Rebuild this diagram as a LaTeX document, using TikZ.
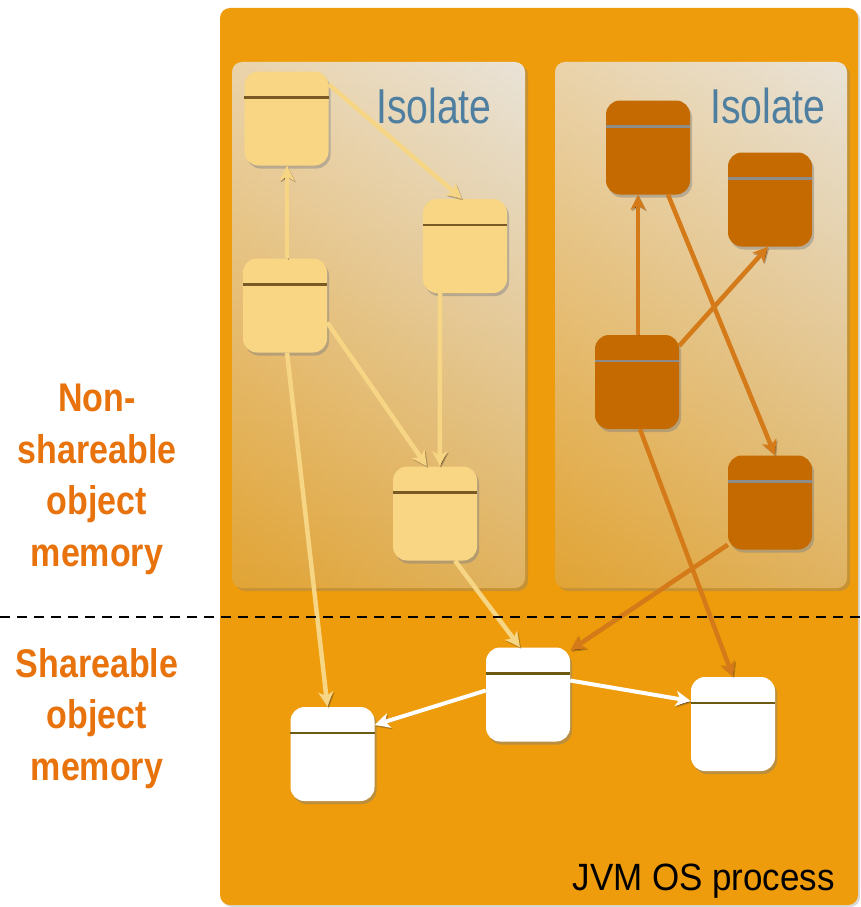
\documentclass[tikz,border=0pt]{standalone}
\usepackage{fontspec}
\setmainfont{Liberation Sans}
\usetikzlibrary{shadows,arrows.meta}
\definecolor{procbg}{HTML}{EE9C0B}
\definecolor{panTop}{HTML}{E9E3D8}
\definecolor{panMid}{HTML}{DAB780}
\definecolor{panBot}{HTML}{DEA640}
\definecolor{yelbox}{HTML}{F8D684}
\definecolor{yelarr}{HTML}{F6D585}
\definecolor{yelline}{HTML}{7A5A24}
\definecolor{drkbox}{HTML}{C46A00}
\definecolor{drkarr}{HTML}{D47A18}
\definecolor{drkline}{HTML}{8C8C8C}
\definecolor{whline}{HTML}{6B5A10}
\definecolor{isoblue}{HTML}{4E7EA0}
\definecolor{memorange}{HTML}{E8720C}
\tikzset{
  objbox/.style={rectangle, rounded corners=14pt, minimum width=84pt, minimum height=94pt, inner sep=0pt,
    drop shadow={opacity=0.45, shadow xshift=2pt, shadow yshift=-3pt}},
  yobj/.style={objbox, fill=yelbox},
  dobj/.style={objbox, fill=drkbox},
  wobj/.style={objbox, fill=white},
  conn/.style={line width=4.5pt, -{Stealth[length=15pt,width=15pt,inset=4pt]},
    preaction={draw=black!70!brown, draw opacity=0.3, transform canvas={shift={(1.2pt,-1.5pt)}}}},
  yconn/.style={conn, draw=yelarr},
  dconn/.style={conn, draw=drkarr},
  wconn/.style={conn, draw=white, line width=4pt},
  panel/.style={rounded corners=10pt, top color=panTop, middle color=panMid, bottom color=panBot,
    drop shadow={opacity=0.35, shadow xshift=3pt, shadow yshift=-3pt}},
  panelside/.style={rounded corners=10pt, left color=procbg, right color=panTop, opacity=0.22},
  isolbl/.style={anchor=base west, text=isoblue, font=\fontsize{49}{55}\selectfont, xscale=0.8, inner sep=0pt},
  memlbl/.style={anchor=north, align=center, text=memorange, font=\fontsize{40}{51.5}\selectfont\bfseries, xscale=0.85, inner sep=0pt},
}
\newcommand{\hdrline}[2]{\draw[#2, line width=2.4pt] ([yshift=-26pt]#1.north west) -- ([yshift=-26pt]#1.north east);}
\begin{document}
\begin{tikzpicture}[x=1pt,y=-1pt]
\useasboundingbox (0,0) rectangle (861,907);
\fill[white] (0,0) rectangle (861,907);
% process box
\fill[procbg, rounded corners=10pt, drop shadow={opacity=0.3, shadow xshift=2pt, shadow yshift=-2pt}] (220,8) rectangle (858,905);
% isolate panels
\shade[panel] (232,62) rectangle (525,588);
\shade[panelside] (232,62) rectangle (525,588);
\shade[panel] (555,62) rectangle (847,588);
\shade[panelside] (555,62) rectangle (847,588);
\node[isolbl] (iso1) at (376,123) {Isolate};
\node[isolbl] (iso2) at (710,123) {Isolate};
% left isolate objects
\node[yobj] (A) at (286.5,118.5) {};
\node[yobj] (B) at (465,246) {};
\node[yobj] (C) at (285,305.5) {};
\node[yobj] (D) at (435,513.5) {};
% right isolate objects
\node[dobj] (E) at (648,147.5) {};
\node[dobj] (F) at (770,199.5) {};
\node[dobj] (G) at (637,382) {};
\node[dobj] (H) at (770,502.5) {};
% shared objects
\node[wobj] (W1) at (332.5,754) {};
\node[wobj] (W2) at (528,694.5) {};
\node[wobj] (W3) at (733,724) {};
\hdrline{A}{yelline}\hdrline{B}{yelline}\hdrline{C}{yelline}\hdrline{D}{yelline}
\hdrline{E}{drkline}\hdrline{F}{drkline}\hdrline{G}{drkline}\hdrline{H}{drkline}
\hdrline{W1}{whline}\hdrline{W2}{whline}\hdrline{W3}{whline}
% connectors, left isolate
\draw[yconn] ([yshift=-13pt]A.north east) -- ([xshift=-3pt]B.north);
\draw[yconn] ([xshift=2pt]C.north) -- ([xshift=2pt]C.north |- A.south);
\draw[yconn] ([yshift=-17pt]C.east) -- ([xshift=34pt]D.north west);
\draw[yconn] ([xshift=-25pt]B.south) -- ([xshift=47pt]D.north west);
\draw[yconn] ([xshift=2pt]C.south) -- ([xshift=-5pt]W1.north);
\draw[yconn] ([xshift=20pt]D.south) -- ([xshift=-8pt]W2.north);
% connectors, right isolate
\draw[dconn] ([xshift=1pt]G.north) -- ([xshift=1pt]G.north |- E.south);
\draw[dconn] ([yshift=-11pt]G.north east) -- ([xshift=-2pt]F.south);
\draw[dconn] ([xshift=20pt]E.south) -- ([xshift=5pt]H.north);
\draw[dconn] ([xshift=3pt]G.south) -- (W3.north);
\draw[dconn] ([yshift=5pt]H.south west) -- ([yshift=-3pt]W2.north east);
% connectors, shared
\draw[wconn] ([yshift=4pt]W2.west) -- ([yshift=29pt]W1.east);
\draw[wconn] ([yshift=14pt]W2.east) -- ([yshift=23pt]W3.west);
% divider
\draw[black, line width=2.5pt, dash pattern=on 10pt off 7pt] (0,617) -- (861,617);
% labels
\node[memlbl] (nonshare) at (97,384) {Non-\\shareable\\object\\memory};
\node[memlbl] (share) at (97,648) {Shareable\\object\\memory};
\node[anchor=base east, font=\fontsize{38}{44}\selectfont, xscale=0.92, inner sep=0pt] (jvm) at (835,890) {JVM OS process};
\end{tikzpicture}
\end{document}
